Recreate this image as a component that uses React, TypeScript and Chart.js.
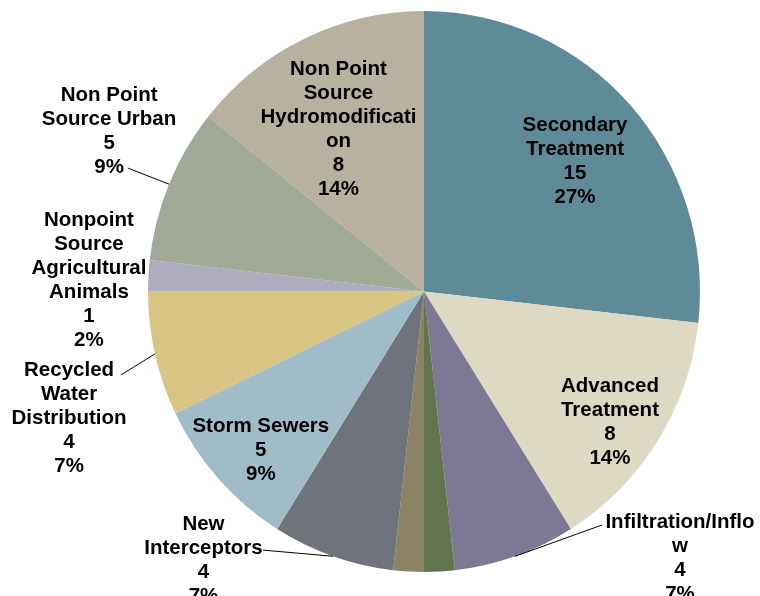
import React, { useEffect, useRef } from "react";
import { Chart, registerables } from "chart.js";

Chart.register(...registerables);

// ---- Data ----
const categories = [
  "Secondary Treatment",
  "Advanced Treatment",
  "Infiltration/Inflow",
  "Sewer Replacement/Rehabilitation",
  "New Collector Sewers",
  "New Interceptors",
  "Storm Sewers",
  "Recycled Water Distribution",
  "Nonpoint Source Agricultural Animals",
  "Non Point Source Urban",
  "Non Point Source Hydromodification",
];
const values = [15, 8, 4, 1, 1, 4, 5, 4, 1, 5, 8];

// wrapped label lines as shown in the picture
const nameLines: string[][] = [
  ["Secondary", "Treatment"],
  ["Advanced", "Treatment"],
  ["Infiltration/Inflo", "w"],
  ["Sewer", "Replacement/Rehabilitation"],
  ["New Collector", "Sewers"],
  ["New", "Interceptors"],
  ["Storm Sewers"],
  ["Recycled", "Water", "Distribution"],
  ["Nonpoint", "Source", "Agricultural", "Animals"],
  ["Non Point", "Source Urban"],
  ["Non Point", "Source", "Hydromodificati", "on"],
];

// ---- Styles ----
const colors = [
  "#5F8B98",
  "#DDD9C3",
  "#7D7893",
  "#62754F",
  "#8C8264",
  "#6E737C",
  "#A0BCC8",
  "#D8C584",
  "#B0ACBF",
  "#A0AA96",
  "#B8B1A0",
];

// label placement (in units of the pie radius, relative to the centre)
type Place =
  | { inside: number; rot: number }
  | { dx: number; dy: number; lx?: number; ly?: number }
  | null;
const placements: Place[] = [
  { inside: 0.727, rot: 0.6 },
  { inside: 0.819, rot: 2.5 },
  { dx: 0.9275, dy: 0.828, lx: 0.645, ly: 0.846 },
  { dx: 0.3, dy: 1.3 },
  { dx: -0.3, dy: 1.3 },
  { dx: -0.799, dy: 0.835, lx: -0.583, ly: 0.937 },
  { inside: 0.819, rot: -2 },
  { dx: -1.286, dy: 0.277, lx: -1.098, ly: 0.3025 },
  { dx: -1.214, dy: -0.266 },
  { dx: -1.141, dy: -0.719, lx: -1.072, ly: -0.447 },
  { inside: 0.671, rot: -1.8 },
];
const LH = 24;
const TEXT_DY = 2;
const SY = 1.0163; // slight vertical stretch of the pie

const labelPlugin = {
  id: "sliceLabels",
  beforeDatasetsDraw(chart: any) {
    const ctx = chart.ctx as CanvasRenderingContext2D;
    const arc = chart.getDatasetMeta(0).data[0];
    ctx.save();
    ctx.translate(0, arc.y);
    ctx.scale(1, SY);
    ctx.translate(0, -arc.y);
  },
  afterDatasetsDraw(chart: any) {
    const ctx = chart.ctx as CanvasRenderingContext2D;
    ctx.restore();
    const meta = chart.getDatasetMeta(0);
    const total = values.reduce((a, b) => a + b, 0);
    ctx.save();
    ctx.font = 'bold 20.5px "Liberation Sans", Arial, sans-serif';
    ctx.fillStyle = "#000";
    ctx.strokeStyle = "#000";
    ctx.lineWidth = 1;
    ctx.textAlign = "center";
    ctx.textBaseline = "middle";
    meta.data.forEach((arc: any, i: number) => {
      const place = placements[i];
      if (!place) return;
      const p = arc.getProps(["x", "y", "startAngle", "endAngle", "outerRadius"], true);
      const mid = (p.startAngle + p.endAngle) / 2;
      const r = p.outerRadius;
      const lines = [
        ...nameLines[i],
        String(values[i]),
        Math.round((values[i] / total) * 100) + "%",
      ];
      let cx: number;
      let firstY: number;
      if ("inside" in place) {
        const a = mid + (place.rot * Math.PI) / 180;
        cx = p.x + Math.cos(a) * r * place.inside;
        const cy = p.y + Math.sin(a) * r * place.inside;
        firstY = cy - ((lines.length - 1) * LH) / 2;
      } else {
        cx = p.x + place.dx * r;
        firstY = p.y + place.dy * r;
        if (place.lx !== undefined && place.ly !== undefined) {
          ctx.beginPath();
          ctx.moveTo(p.x + Math.cos(mid) * r, p.y + Math.sin(mid) * r * SY);
          ctx.lineTo(p.x + place.lx * r, p.y + place.ly * r);
          ctx.stroke();
        }
      }
      lines.forEach((t, k) => ctx.fillText(t, cx, firstY + k * LH + TEXT_DY));
    });
    ctx.restore();
  },
};

export default function App() {
  const ref = useRef<HTMLCanvasElement | null>(null);
  useEffect(() => {
    if (!ref.current) return;
    const chart = new Chart(ref.current, {
      type: "pie",
      data: {
        labels: categories,
        datasets: [
          {
            data: values,
            backgroundColor: colors,
            borderWidth: 0,
          },
        ],
      },
      options: {
        responsive: false,
        animation: false,
        layout: { padding: { left: 148, right: 60, top: 15.5, bottom: 28.5 } },
        plugins: {
          legend: { display: false },
          tooltip: { enabled: false },
          title: { display: false },
        },
      },
      plugins: [labelPlugin],
    });
    return () => chart.destroy();
  }, []);
  return (
    <div style={{ position: "absolute", left: 0, top: 0, width: 760, height: 596, background: "#fff" }}>
      <canvas ref={ref} width={760} height={596} style={{ display: "block" }} />
    </div>
  );
}
